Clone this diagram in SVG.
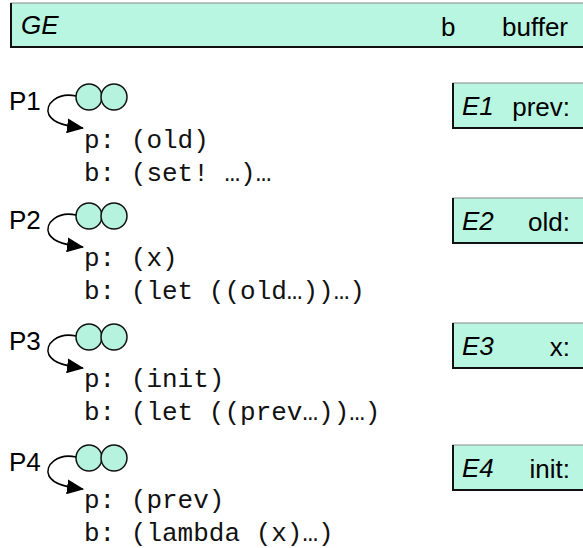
<svg xmlns="http://www.w3.org/2000/svg" width="583" height="548" viewBox="0 0 583 548">
  <defs>
    <marker id="head" markerWidth="17" markerHeight="15" refX="16" refY="7.5" orient="auto" markerUnits="userSpaceOnUse">
      <path d="M0,0 L17,7.5 L0,15 Z" fill="#000"/>
    </marker>
  </defs>
  <style>
    .frame { fill: #b9f6e1; stroke: #8a8a8a; stroke-width: 1; }
    .shade { fill: none; stroke: #111; stroke-width: 2; }
    .pair { fill: #b6f3de; stroke: #111; stroke-width: 1.5; }
    .link { fill: none; stroke: #000; stroke-width: 1.6; marker-end: url(#head); }
    .sans { font-family: "Liberation Sans", Arial, sans-serif; font-size: 26px; fill: #000; }
    .ital { font-style: italic; }
    .code { font-family: "Courier New", "Liberation Mono", monospace; font-size: 26px; fill: #111; }
  </style>

  <rect width="583" height="548" fill="#fff"/>

  <!-- global environment frame -->
  <g id="GE">
    <rect class="frame" x="11" y="3" width="580" height="44"/>
    <polyline class="shade" points="11,3 11,47 591,47"/>
    <text class="sans ital" x="21" y="34">GE</text>
    <text class="sans" x="441" y="36">b</text>
    <text class="sans" x="568" y="36" text-anchor="end">buffer</text>
  </g>

  <!-- environment frames -->
  <g id="E1">
    <rect class="frame" x="453" y="83" width="140" height="45"/>
    <polyline class="shade" points="453,83 453,128 593,128"/>
    <text class="sans ital" x="462" y="115">E1</text>
    <text class="sans" x="570" y="116" text-anchor="end">prev:</text>
  </g>
  <g id="E2">
    <rect class="frame" x="453" y="198" width="140" height="45"/>
    <polyline class="shade" points="453,198 453,243 593,243"/>
    <text class="sans ital" x="462" y="230">E2</text>
    <text class="sans" x="570" y="231" text-anchor="end">old:</text>
  </g>
  <g id="E3">
    <rect class="frame" x="453" y="323" width="140" height="45"/>
    <polyline class="shade" points="453,323 453,368 593,368"/>
    <text class="sans ital" x="462" y="355">E3</text>
    <text class="sans" x="570" y="356" text-anchor="end">x:</text>
  </g>
  <g id="E4">
    <rect class="frame" x="453" y="445" width="140" height="45"/>
    <polyline class="shade" points="453,445 453,490 593,490"/>
    <text class="sans ital" x="462" y="477">E4</text>
    <text class="sans" x="570" y="478" text-anchor="end">init:</text>
  </g>

  <!-- procedure objects -->
  <g id="P1">
    <text class="sans" x="9" y="110">P1</text>
    <circle class="pair" cx="89" cy="97" r="13"/>
    <circle class="pair" cx="114" cy="97" r="13"/>
    <text class="code" x="84" y="148">p: (old)</text>
    <text class="code" x="84" y="181">b: (set! …)…</text>
  </g>
  <g id="P2">
    <text class="sans" x="9" y="229">P2</text>
    <circle class="pair" cx="89" cy="216" r="13"/>
    <circle class="pair" cx="114" cy="216" r="13"/>
    <text class="code" x="84" y="266">p: (x)</text>
    <text class="code" x="84" y="299">b: (let ((old…))…)</text>
  </g>
  <g id="P3">
    <text class="sans" x="9" y="350">P3</text>
    <circle class="pair" cx="89" cy="337" r="13"/>
    <circle class="pair" cx="114" cy="337" r="13"/>
    <text class="code" x="84" y="387">p: (init)</text>
    <text class="code" x="84" y="420">b: (let ((prev…))…)</text>
  </g>
  <g id="P4">
    <text class="sans" x="9" y="471">P4</text>
    <circle class="pair" cx="89" cy="458" r="13"/>
    <circle class="pair" cx="114" cy="458" r="13"/>
    <text class="code" x="84" y="508">p: (prev)</text>
    <text class="code" x="84" y="541">b: (lambda (x)…)</text>
  </g>

  <!-- code pointers from each procedure's left cell -->
  <g id="connectors">
    <path class="link" d="M76,96 C58,92 44,104 49,115 C54,124 68,126 83,128"/>
    <path class="link" d="M76,215 C58,211 44,223 49,234 C54,243 68,245 83,247"/>
    <path class="link" d="M76,336 C58,332 44,344 49,355 C54,364 68,366 83,368"/>
    <path class="link" d="M76,457 C58,453 44,465 49,476 C54,485 68,487 83,489"/>
  </g>
</svg>
